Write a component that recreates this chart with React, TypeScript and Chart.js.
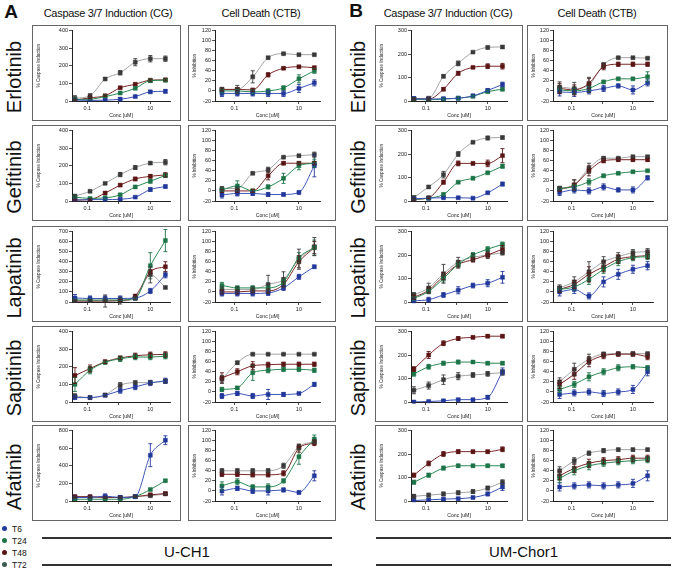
import React, { useEffect, useRef } from "react";
import { Chart, registerables } from "chart.js";

Chart.register(...registerables);

const FONT = "'Liberation Sans', Arial, Helvetica, sans-serif";

// Concentrations (uM), 3-fold dilution series
const CONC = [0.041, 0.123, 0.37, 1.11, 3.33, 10, 30];
const TIMEPOINTS = ["T6", "T24", "T48", "T72"];
const DRUGS = ["Erlotinib", "Gefitinib", "Lapatinib", "Sapitinib", "Afatinib"];
const X_TICKS = [0.1, 1, 10];
const CELL_LINES = ["U-CH1", "UM-Chor1"];

const MARKER_COLORS = ["#22389a", "#1d7447", "#5a1515", "#3a3a3a"];
const LINE_COLORS = ["#3d55b8", "#2c8a55", "#7b2626", "#a3a3a3"];
const LEGEND_COLORS = ["#22389a", "#1d7447", "#5a1515", "#3e5a52"];

// Each block: rows are T6, T24, T48, T72 (means), then matching error bars.
// ---- U-CH1 ----
const erlCgA = [
  [5, 3, 5, 10, 25, 52, 55],
  [8, 10, 25, 45, 72, 115, 118],
  [5, 18, 30, 75, 95, 118, 120],
  [15, 30, 125, 160, 220, 240, 240],
];
const erlCgAErr = [
  [4, 3, 4, 10, 6, 6, 10],
  [5, 4, 4, 5, 6, 8, 8],
  [4, 4, 4, 5, 6, 6, 6],
  [15, 10, 8, 12, 20, 18, 15],
];
const erlCtbA = [
  [-5, -5, -5, -5, -5, 5, 16],
  [0, 0, -2, 0, 6, 24, 40],
  [3, 3, 2, 32, 45, 48, 46],
  [3, 3, 28, 66, 74, 72, 72],
];
const erlCtbAErr = [
  [6, 5, 5, 6, 6, 8, 6],
  [4, 4, 4, 4, 4, 8, 5],
  [3, 3, 3, 4, 2, 2, 3],
  [4, 8, 12, 2, 1, 1, 2],
];
const gefCgA = [
  [5, 8, 8, 10, 22, 65, 82],
  [22, 15, 18, 35, 80, 112, 145],
  [5, 8, 45, 90, 125, 140, 148],
  [28, 55, 100, 150, 190, 215, 220],
];
const gefCgAErr = [
  [5, 5, 8, 5, 5, 10, 8],
  [6, 5, 8, 6, 8, 10, 12],
  [5, 4, 6, 8, 10, 10, 12],
  [6, 5, 5, 12, 10, 8, 15],
];
const gefCtbA = [
  [-8, -5, -5, -7, -7, -3, 50],
  [2, 10, 0, 8, 25, 50, 55],
  [0, 0, 0, 30, 55, 55, 55],
  [5, 5, 35, 42, 67, 70, 72],
];
const gefCtbAErr = [
  [6, 5, 4, 4, 3, 3, 22],
  [4, 10, 3, 4, 10, 8, 8],
  [3, 3, 3, 8, 3, 3, 3],
  [3, 3, 2, 5, 2, 2, 5],
];
const lapCgA = [
  [40, 35, 35, 35, 40, 110, 270],
  [20, 20, 20, 20, 40, 360, 610],
  [10, 10, 10, 15, 60, 300, 350],
  [8, 8, 10, 10, 35, 270, 145],
];
const lapCgAErr = [
  [35, 25, 25, 25, 10, 25, 30],
  [10, 10, 10, 10, 10, 130, 110],
  [10, 10, 10, 10, 10, 20, 50],
  [10, 10, 60, 30, 10, 80, 10],
];
const lapCtbA = [
  [-3, -3, -3, -2, 8, 30, 50],
  [13, 8, 8, 8, 20, 68, 88],
  [0, 0, 2, 2, 15, 60, 88],
  [5, 5, 5, 15, 25, 65, 90],
];
const lapCtbAErr = [
  [5, 5, 5, 5, 5, 5, 3],
  [6, 4, 4, 4, 5, 10, 15],
  [4, 4, 4, 4, 5, 12, 12],
  [5, 5, 5, 18, 15, 20, 18],
];
const sapCgA = [
  [25, 25, 38, 65, 85, 108, 120],
  [100, 180, 225, 245, 255, 255, 260],
  [150, 190, 228, 250, 262, 268, 270],
  [35, 25, 40, 95, 110, 110, 118],
];
const sapCgAErr = [
  [10, 8, 8, 15, 15, 15, 15],
  [40, 20, 10, 15, 15, 15, 15],
  [45, 20, 10, 10, 15, 15, 15],
  [10, 8, 8, 15, 10, 10, 10],
];
const sapCtbA = [
  [-8, -3, -8, -5, -5, -3, 15],
  [5, 8, 38, 43, 45, 45, 43],
  [28, 40, 52, 54, 55, 55, 55],
  [25, 58, 75, 75, 75, 75, 75],
];
const sapCtbAErr = [
  [5, 4, 5, 10, 4, 2, 4],
  [4, 3, 15, 5, 4, 4, 4],
  [10, 6, 8, 5, 4, 4, 4],
  [8, 3, 2, 1, 1, 1, 1],
];
const afaCgA = [
  [40, 40, 55, 40, 50, 520, 690],
  [20, 20, 20, 20, 50, 130, 230],
  [50, 50, 40, 40, 50, 70, 85],
  [40, 40, 40, 40, 50, 60, 80],
];
const afaCgAErr = [
  [20, 15, 25, 15, 10, 130, 50],
  [10, 8, 8, 8, 8, 10, 10],
  [10, 10, 10, 10, 8, 8, 8],
  [10, 8, 8, 8, 8, 8, 8],
];
const afaCtbA = [
  [0, 5, 0, 0, 2, -3, 30],
  [10, 18, 8, 8, 20, 68, 103],
  [33, 33, 32, 32, 35, 85, 95],
  [40, 40, 40, 40, 50, 88, 98],
];
const afaCtbAErr = [
  [8, 4, 5, 8, 4, 3, 10],
  [8, 6, 4, 6, 4, 15, 8],
  [4, 4, 4, 4, 5, 8, 5],
  [4, 4, 4, 4, 5, 4, 4],
];

// ---- UM-Chor1 ----
const erlCgB = [
  [10, 8, 10, 12, 22, 45, 70],
  [8, 5, 8, 12, 20, 40, 50],
  [8, 8, 50, 118, 143, 148, 148],
  [10, 12, 105, 160, 208, 228, 230],
];
const erlCgBErr = [
  [8, 5, 4, 6, 4, 8, 10],
  [6, 4, 4, 6, 4, 6, 6],
  [4, 4, 6, 8, 4, 10, 12],
  [4, 4, 6, 10, 3, 6, 6],
];
const erlCtbB = [
  [-2, -3, 0, 5, 10, 2, 16],
  [2, 0, 5, 18, 24, 24, 28],
  [5, 2, 15, 48, 53, 53, 53],
  [8, 5, 12, 52, 66, 66, 65],
];
const erlCtbBErr = [
  [8, 8, 6, 6, 4, 8, 6],
  [6, 6, 4, 3, 2, 2, 10],
  [10, 10, 10, 6, 4, 4, 4],
  [10, 12, 15, 4, 2, 2, 2],
];
const gefCgB = [
  [10, 12, 14, 14, 12, 35, 72],
  [7, 12, 28, 80, 97, 120, 148],
  [7, 14, 80, 160, 160, 160, 193],
  [15, 60, 112, 200, 250, 268, 270],
];
const gefCgBErr = [
  [4, 4, 4, 4, 4, 4, 8],
  [4, 4, 6, 4, 6, 4, 8],
  [4, 4, 8, 10, 6, 14, 30],
  [6, 6, 14, 10, 4, 8, 6],
];
const gefCtbB = [
  [-3, 2, 0, 8, 2, 2, 26],
  [5, 8, 18, 30, 35, 38, 40],
  [3, 12, 40, 60, 62, 62, 62],
  [5, 12, 45, 65, 65, 68, 68],
];
const gefCtbBErr = [
  [6, 6, 6, 6, 4, 6, 4],
  [4, 4, 6, 3, 2, 2, 2],
  [4, 10, 10, 4, 3, 3, 3],
  [4, 10, 10, 3, 2, 2, 2],
];
const lapCgB = [
  [5, 10, 30, 50, 70, 80, 105],
  [15, 45, 100, 160, 200, 225, 245],
  [20, 50, 110, 160, 180, 200, 225],
  [30, 60, 120, 170, 190, 200, 210],
];
const lapCgBErr = [
  [8, 10, 10, 15, 10, 15, 25],
  [8, 10, 15, 15, 10, 10, 10],
  [8, 12, 15, 15, 10, 10, 15],
  [10, 20, 40, 20, 15, 15, 10],
];
const lapCtbB = [
  [0, 5, -8, 20, 35, 45, 52],
  [5, 10, 25, 45, 60, 68, 70],
  [5, 15, 35, 50, 65, 70, 72],
  [8, 20, 40, 60, 70, 78, 80],
];
const lapCtbBErr = [
  [8, 8, 6, 10, 10, 8, 8],
  [6, 6, 10, 8, 8, 6, 6],
  [6, 8, 15, 10, 8, 6, 6],
  [6, 10, 20, 10, 8, 6, 6],
];
const sapCgB = [
  [0, 2, 5, 10, 10, 20, 130],
  [120, 150, 165, 170, 170, 165, 165],
  [140, 200, 250, 270, 275, 280, 280],
  [50, 70, 95, 110, 115, 120, 125],
];
const sapCgBErr = [
  [5, 5, 5, 5, 5, 8, 15],
  [10, 10, 8, 8, 6, 6, 6],
  [10, 15, 10, 8, 6, 6, 6],
  [15, 15, 20, 15, 10, 10, 10],
];
const sapCtbB = [
  [-5, -2, 0, -3, 0, 5, 40],
  [5, 15, 30, 40, 48, 50, 48],
  [15, 35, 60, 72, 75, 75, 70],
  [20, 45, 65, 75, 76, 76, 76],
];
const sapCtbBErr = [
  [8, 6, 6, 6, 6, 8, 8],
  [6, 6, 8, 6, 6, 4, 4],
  [8, 10, 10, 6, 4, 4, 6],
  [8, 12, 10, 4, 3, 3, 3],
];
const afaCgB = [
  [2, 5, 8, 10, 15, 30, 60],
  [80, 110, 140, 150, 150, 150, 150],
  [110, 160, 200, 210, 210, 210, 220],
  [20, 25, 30, 35, 40, 55, 80],
];
const afaCgBErr = [
  [5, 5, 5, 5, 5, 8, 15],
  [8, 8, 8, 6, 6, 6, 6],
  [8, 10, 10, 8, 6, 6, 10],
  [8, 8, 8, 8, 8, 8, 10],
];
const afaCtbB = [
  [8, 10, 12, 10, 12, 15, 30],
  [25, 40, 50, 55, 58, 60, 62],
  [30, 45, 55, 60, 62, 65, 65],
  [40, 60, 75, 80, 82, 82, 82],
];
const afaCtbBErr = [
  [8, 6, 6, 6, 6, 8, 10],
  [8, 8, 8, 6, 6, 6, 6],
  [8, 8, 8, 6, 6, 6, 6],
  [8, 6, 4, 4, 3, 3, 3],
];

// y-axis limits for the caspase panels, per drug
const CG_A_MAX = [400, 400, 700, 400, 800];
const CG_A_STEP = [100, 100, 100, 100, 200];
const CG_B_MAX = [300, 300, 300, 300, 300];
const CG_B_STEP = [100, 100, 100, 100, 100];
const CTB_RANGE = [-20, 120];
const CTB_STEP = 20;

const VALUES = [
  [erlCgA, erlCtbA, erlCgB, erlCtbB],
  [gefCgA, gefCtbA, gefCgB, gefCtbB],
  [lapCgA, lapCtbA, lapCgB, lapCtbB],
  [sapCgA, sapCtbA, sapCgB, sapCtbB],
  [afaCgA, afaCtbA, afaCgB, afaCtbB],
];
const ERRORS = [
  [erlCgAErr, erlCtbAErr, erlCgBErr, erlCtbBErr],
  [gefCgAErr, gefCtbAErr, gefCgBErr, gefCtbBErr],
  [lapCgAErr, lapCtbAErr, lapCgBErr, lapCtbBErr],
  [sapCgAErr, sapCtbAErr, sapCgBErr, sapCtbBErr],
  [afaCgAErr, afaCtbAErr, afaCgBErr, afaCtbBErr],
];

// panel geometry
const COLS = [
  { left: 32, width: 149, axisW: 40, padRight: 11, xMin: 0.033, xMax: 42, cg: true },
  { left: 188, width: 148, axisW: 27, padRight: 16, xMin: 0.025, xMax: 45, cg: false },
  { left: 375, width: 148, axisW: 36, padRight: 16, xMin: 0.033, xMax: 42, cg: true },
  { left: 527, width: 141, axisW: 26, padRight: 15, xMin: 0.025, xMax: 45, cg: false },
];
const ROW_TOPS = [25, 125, 226, 326, 425];
const ROW_H = 96;

function errorBars(errs: number[][]) {
  return {
    id: "errorBars",
    afterDatasetsDraw(chart: any) {
      const ctx = chart.ctx;
      const ys = chart.scales.y;
      chart.data.datasets.forEach((ds: any, i: number) => {
        const meta = chart.getDatasetMeta(i);
        ctx.save();
        ctx.strokeStyle = MARKER_COLORS[i];
        ctx.lineWidth = 0.9;
        meta.data.forEach((pt: any, j: number) => {
          const e = errs[i][j];
          if (!e) return;
          const v = ds.data[j].y;
          const yt = ys.getPixelForValue(v + e);
          const yb = ys.getPixelForValue(v - e);
          ctx.beginPath();
          ctx.moveTo(pt.x, yt);
          ctx.lineTo(pt.x, yb);
          ctx.moveTo(pt.x - 2, yt);
          ctx.lineTo(pt.x + 2, yt);
          ctx.moveTo(pt.x - 2, yb);
          ctx.lineTo(pt.x + 2, yb);
          ctx.stroke();
        });
        ctx.restore();
      });
    },
  };
}

type PanelProps = { row: number; col: number };

function DosePanel({ row, col }: PanelProps) {
  const ref = useRef<HTMLCanvasElement>(null);
  const c = COLS[col];
  const w = c.width - 2;
  const h = ROW_H - 2;

  useEffect(() => {
    const values = VALUES[row][col];
    const errs = ERRORS[row][col];
    const isA = col < 2;
    const yMin = c.cg ? 0 : CTB_RANGE[0];
    const yMax = c.cg ? (isA ? CG_A_MAX[row] : CG_B_MAX[row]) : CTB_RANGE[1];
    const step = c.cg ? (isA ? CG_A_STEP[row] : CG_B_STEP[row]) : CTB_STEP;
    const tickFont = { size: 5.5, family: FONT };
    const axisGrid = {
      display: true,
      drawOnChartArea: false,
      drawTicks: true,
      tickLength: 3,
      color: "#222",
      lineWidth: 0.8,
    };
    const chart = new Chart(ref.current as HTMLCanvasElement, {
      type: "line",
      data: {
        datasets: values.map((vals, i) => ({
          label: TIMEPOINTS[i],
          data: vals.map((v, j) => ({ x: CONC[j], y: v })),
          borderColor: LINE_COLORS[i],
          borderWidth: 1,
          backgroundColor: MARKER_COLORS[i],
          pointBackgroundColor: MARKER_COLORS[i],
          pointBorderColor: MARKER_COLORS[i],
          pointBorderWidth: 0.5,
          pointStyle: "rect",
          pointRadius: 2.8,
          cubicInterpolationMode: "monotone",
          fill: false,
        })),
      },
      options: {
        animation: false,
        responsive: false,
        maintainAspectRatio: false,
        events: [],
        layout: { padding: { left: 0, right: c.padRight - 1, top: 2, bottom: 0 } },
        plugins: { legend: { display: false }, tooltip: { enabled: false } },
        scales: {
          x: {
            type: "logarithmic",
            min: c.xMin,
            max: c.xMax,
            afterBuildTicks: (scale: any) => {
              scale.ticks = X_TICKS.map((v) => ({ value: v }));
            },
            afterFit: (scale: any) => {
              scale.height = 19;
            },
            ticks: {
              autoSkip: false,
              maxRotation: 0,
              font: tickFont,
              color: "#222",
              padding: 1,
              callback: (v: any) => (v === 0.1 ? "0.1" : v === 10 ? "10" : ""),
            },
            grid: axisGrid,
            border: { display: true, color: "#222", width: 1 },
            title: {
              display: true,
              text: "Conc [uM]",
              font: { size: 5.2, family: FONT },
              color: "#222",
              padding: { top: 0, bottom: 1 },
            },
          },
          y: {
            min: yMin,
            max: yMax,
            afterFit: (scale: any) => {
              scale.width = c.axisW - 1;
            },
            ticks: { stepSize: step, font: tickFont, color: "#222", padding: 1 },
            grid: axisGrid,
            border: { display: true, color: "#222", width: 1 },
            title: {
              display: true,
              text: c.cg ? "% Caspase Induction" : "% Inhibition",
              font: { size: 4.6, family: FONT },
              color: "#222",
              padding: { top: 3, bottom: 0 },
            },
          },
        },
      },
      plugins: [errorBars(errs)],
    } as any);
    return () => chart.destroy();
  }, [row, col]);

  return (
    <div
      style={{
        position: "absolute",
        left: c.left,
        top: ROW_TOPS[row],
        width: c.width,
        height: ROW_H,
        border: "1px solid #666",
        boxSizing: "border-box",
        background: "#fff",
      }}
    >
      <canvas ref={ref} width={w} height={h} style={{ display: "block", width: w, height: h }} />
    </div>
  );
}

const centered = (x: number, y: number, extra: React.CSSProperties = {}): React.CSSProperties => ({
  position: "absolute",
  left: x,
  top: y,
  transform: "translate(-50%, -50%)",
  whiteSpace: "nowrap",
  lineHeight: 1,
  ...extra,
});

export default function App() {
  const headers = [
    { x: 108, text: "Caspase 3/7 Induction (CG)" },
    { x: 261, text: "Cell Death (CTB)" },
    { x: 448, text: "Caspase 3/7 Induction (CG)" },
    { x: 597, text: "Cell Death (CTB)" },
  ];
  return (
    <div
      style={{
        position: "absolute",
        left: 0,
        top: 0,
        width: 675,
        height: 568,
        background: "#fff",
        overflow: "hidden",
        fontFamily: FONT,
        color: "#111",
      }}
    >
      <div style={centered(11, 11, { fontSize: 19, fontWeight: 700 })}>A</div>
      <div style={centered(356, 10, { fontSize: 19, fontWeight: 700 })}>B</div>
      {headers.map((hd, i) => (
        <div key={i} style={centered(hd.x, 12.5, { fontSize: 11, letterSpacing: -0.3 })}>
          {hd.text}
        </div>
      ))}
      {DRUGS.map((d, r) => (
        <React.Fragment key={d}>
          <div style={centered(14, ROW_TOPS[r] + 52, { fontSize: 20, transform: "translate(-50%, -50%) rotate(-90deg)" })}>
            {d}
          </div>
          <div style={centered(358, ROW_TOPS[r] + 52, { fontSize: 20, transform: "translate(-50%, -50%) rotate(-90deg)" })}>
            {d}
          </div>
        </React.Fragment>
      ))}
      {DRUGS.map((d, r) => COLS.map((_, c) => <DosePanel key={d + c} row={r} col={c} />))}
      {TIMEPOINTS.map((t, i) => (
        <React.Fragment key={t}>
          <div
            style={{
              position: "absolute",
              left: 2,
              top: 526 + i * 12,
              width: 5,
              height: 5,
              borderRadius: "50%",
              background: LEGEND_COLORS[i],
            }}
          />
          <div style={{ position: "absolute", left: 12, top: 528.5 + i * 12, transform: "translateY(-50%)", fontSize: 8.5, lineHeight: 1 }}>
            {t}
          </div>
        </React.Fragment>
      ))}
      {[
        { x1: 42, x2: 332 },
        { x1: 376, x2: 671 },
      ].map((ln, i) => (
        <React.Fragment key={i}>
          <div style={{ position: "absolute", left: ln.x1, top: 537, width: ln.x2 - ln.x1, height: 2, background: "#333" }} />
          <div style={{ position: "absolute", left: ln.x1, top: 564, width: ln.x2 - ln.x1, height: 2, background: "#333" }} />
          <div style={centered((ln.x1 + ln.x2) / 2, 551, { fontSize: 15 })}>{CELL_LINES[i]}</div>
        </React.Fragment>
      ))}
    </div>
  );
}
